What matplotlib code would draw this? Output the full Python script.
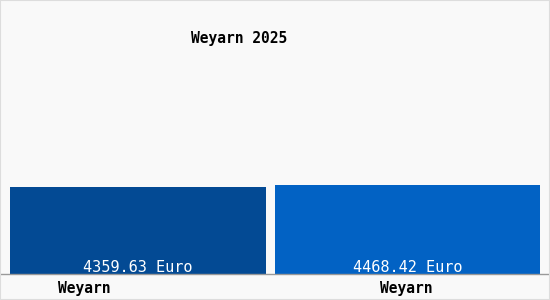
import matplotlib.pyplot as plt

# data
categories = ["Weyarn", "Weyarn"]
values = [4359.63, 4468.42]
value_labels = ["4359.63 Euro", "4468.42 Euro"]
title = "Weyarn 2025"

bar_colors = ["#034a94", "#0262c4"]
bar_widths = [0.95, 0.983]
label_x = [-0.2, 0.994]  # where the category names sit under the bars

plt.rcParams['font.family'] = ['DejaVu Sans Mono']

fig = plt.figure(figsize=(5.5, 3), dpi=100, facecolor="#f9f9f9")
# light frame round the picture
fig.patches.append(plt.Rectangle((0, 0), 1, 1, transform=fig.transFigure,
                                 fill=False, edgecolor="#dddddd", linewidth=1.5))

ax = fig.add_axes([0, 26 / 300, 1, 264 / 300])
ax.set_facecolor("#f9f9f9")

x = list(range(len(values)))
ax.bar(x, values, width=bar_widths, color=bar_colors)

ax.set_xlim(-138 / 269.5, (550 - 138) / 269.5)
ax.set_ylim(0, 13228)

for xi, lab in zip(x, value_labels):
    ax.text(xi, 6 / 264, lab, transform=ax.get_xaxis_transform(),
            ha="center", va="center", color="white", fontsize=11)

for lx, cat in zip(label_x, categories):
    ax.text(lx, -14 / 264, cat, transform=ax.get_xaxis_transform(),
            ha="center", va="center", color="black", fontsize=10.5, fontweight="bold")

ax.text(239 / 550, 1 - 28 / 264, title, transform=ax.transAxes,
        ha="center", va="center", color="black", fontsize=10.5, fontweight="bold")

for s in ["top", "right", "left"]:
    ax.spines[s].set_visible(False)
ax.spines["bottom"].set_color("#999999")
ax.spines["bottom"].set_linewidth(1)
ax.set_xticks([])
ax.set_yticks([])

fig.savefig("out.png", dpi=100, facecolor=fig.get_facecolor())
